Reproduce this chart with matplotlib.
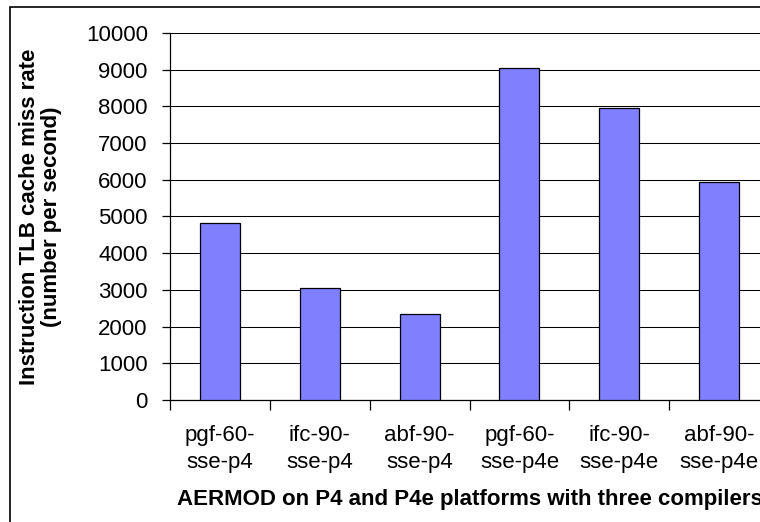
import numpy as np
import matplotlib.pyplot as plt
from matplotlib.patches import Rectangle

categories = ['pgf-60-\nsse-p4', 'ifc-90-\nsse-p4', 'abf-90-\nsse-p4',
              'pgf-60-\nsse-p4e', 'ifc-90-\nsse-p4e', 'abf-90-\nsse-p4e']
miss_rate = [4820, 3050, 2350, 9040, 7950, 5950]
y_ticks = [0, 1000, 2000, 3000, 4000, 5000, 6000, 7000, 8000, 9000, 10000]

plt.rcParams['font.family'] = ['Liberation Sans', 'DejaVu Sans']

fig = plt.figure(figsize=(7.6, 5.22), dpi=100)
W, H = 760, 522

# outer chart frame (cut off at right and bottom like the source)
fig.patches.append(Rectangle((10 / W, -0.1), 1.2, 1.1 - 7 / H, transform=fig.transFigure,
                             fill=False, edgecolor='black', linewidth=1.2))

ax = fig.add_axes([170 / W, 1 - 400 / H, 599 / W, 367 / H])
x = np.arange(len(categories))
ax.bar(x, miss_rate, width=0.4, color='#8080FF', edgecolor='black', linewidth=0.9, zorder=3)

ax.set_xlim(-0.5, len(categories) - 0.5)
ax.set_ylim(0, 10000)
ax.set_yticks(y_ticks)
ax.set_yticklabels([str(v) for v in y_ticks])
ax.yaxis.grid(True, color='black', linewidth=0.75, zorder=0)
ax.set_axisbelow(True)

ax.set_xticks(x)
ax.set_xticklabels(categories, linespacing=1.4)
ax.set_xticks(np.arange(-0.5, len(categories), 1.0), minor=True)
ax.tick_params(axis='x', which='major', length=0, pad=18, labelsize=16)
ax.tick_params(axis='x', which='minor', length=7, direction='out', width=0.9)
ax.tick_params(axis='y', length=6, direction='out', width=0.9, pad=10, labelsize=16)

for s in ['top', 'right']:
    ax.spines[s].set_visible(False)
for s in ['left', 'bottom']:
    ax.spines[s].set_linewidth(0.9)

ax.set_ylabel('Instruction TLB cache miss rate\n(number per second)', fontsize=16,
              fontweight='bold', linespacing=1.1)
ax.yaxis.set_label_coords(-0.18, 0.5)
ax.set_xlabel('AERMOD on P4 and P4e platforms with three compilers', fontsize=16,
              fontweight='bold')
ax.xaxis.set_label_coords(0.5, -0.243)

plt.savefig('out.png', dpi=100)
